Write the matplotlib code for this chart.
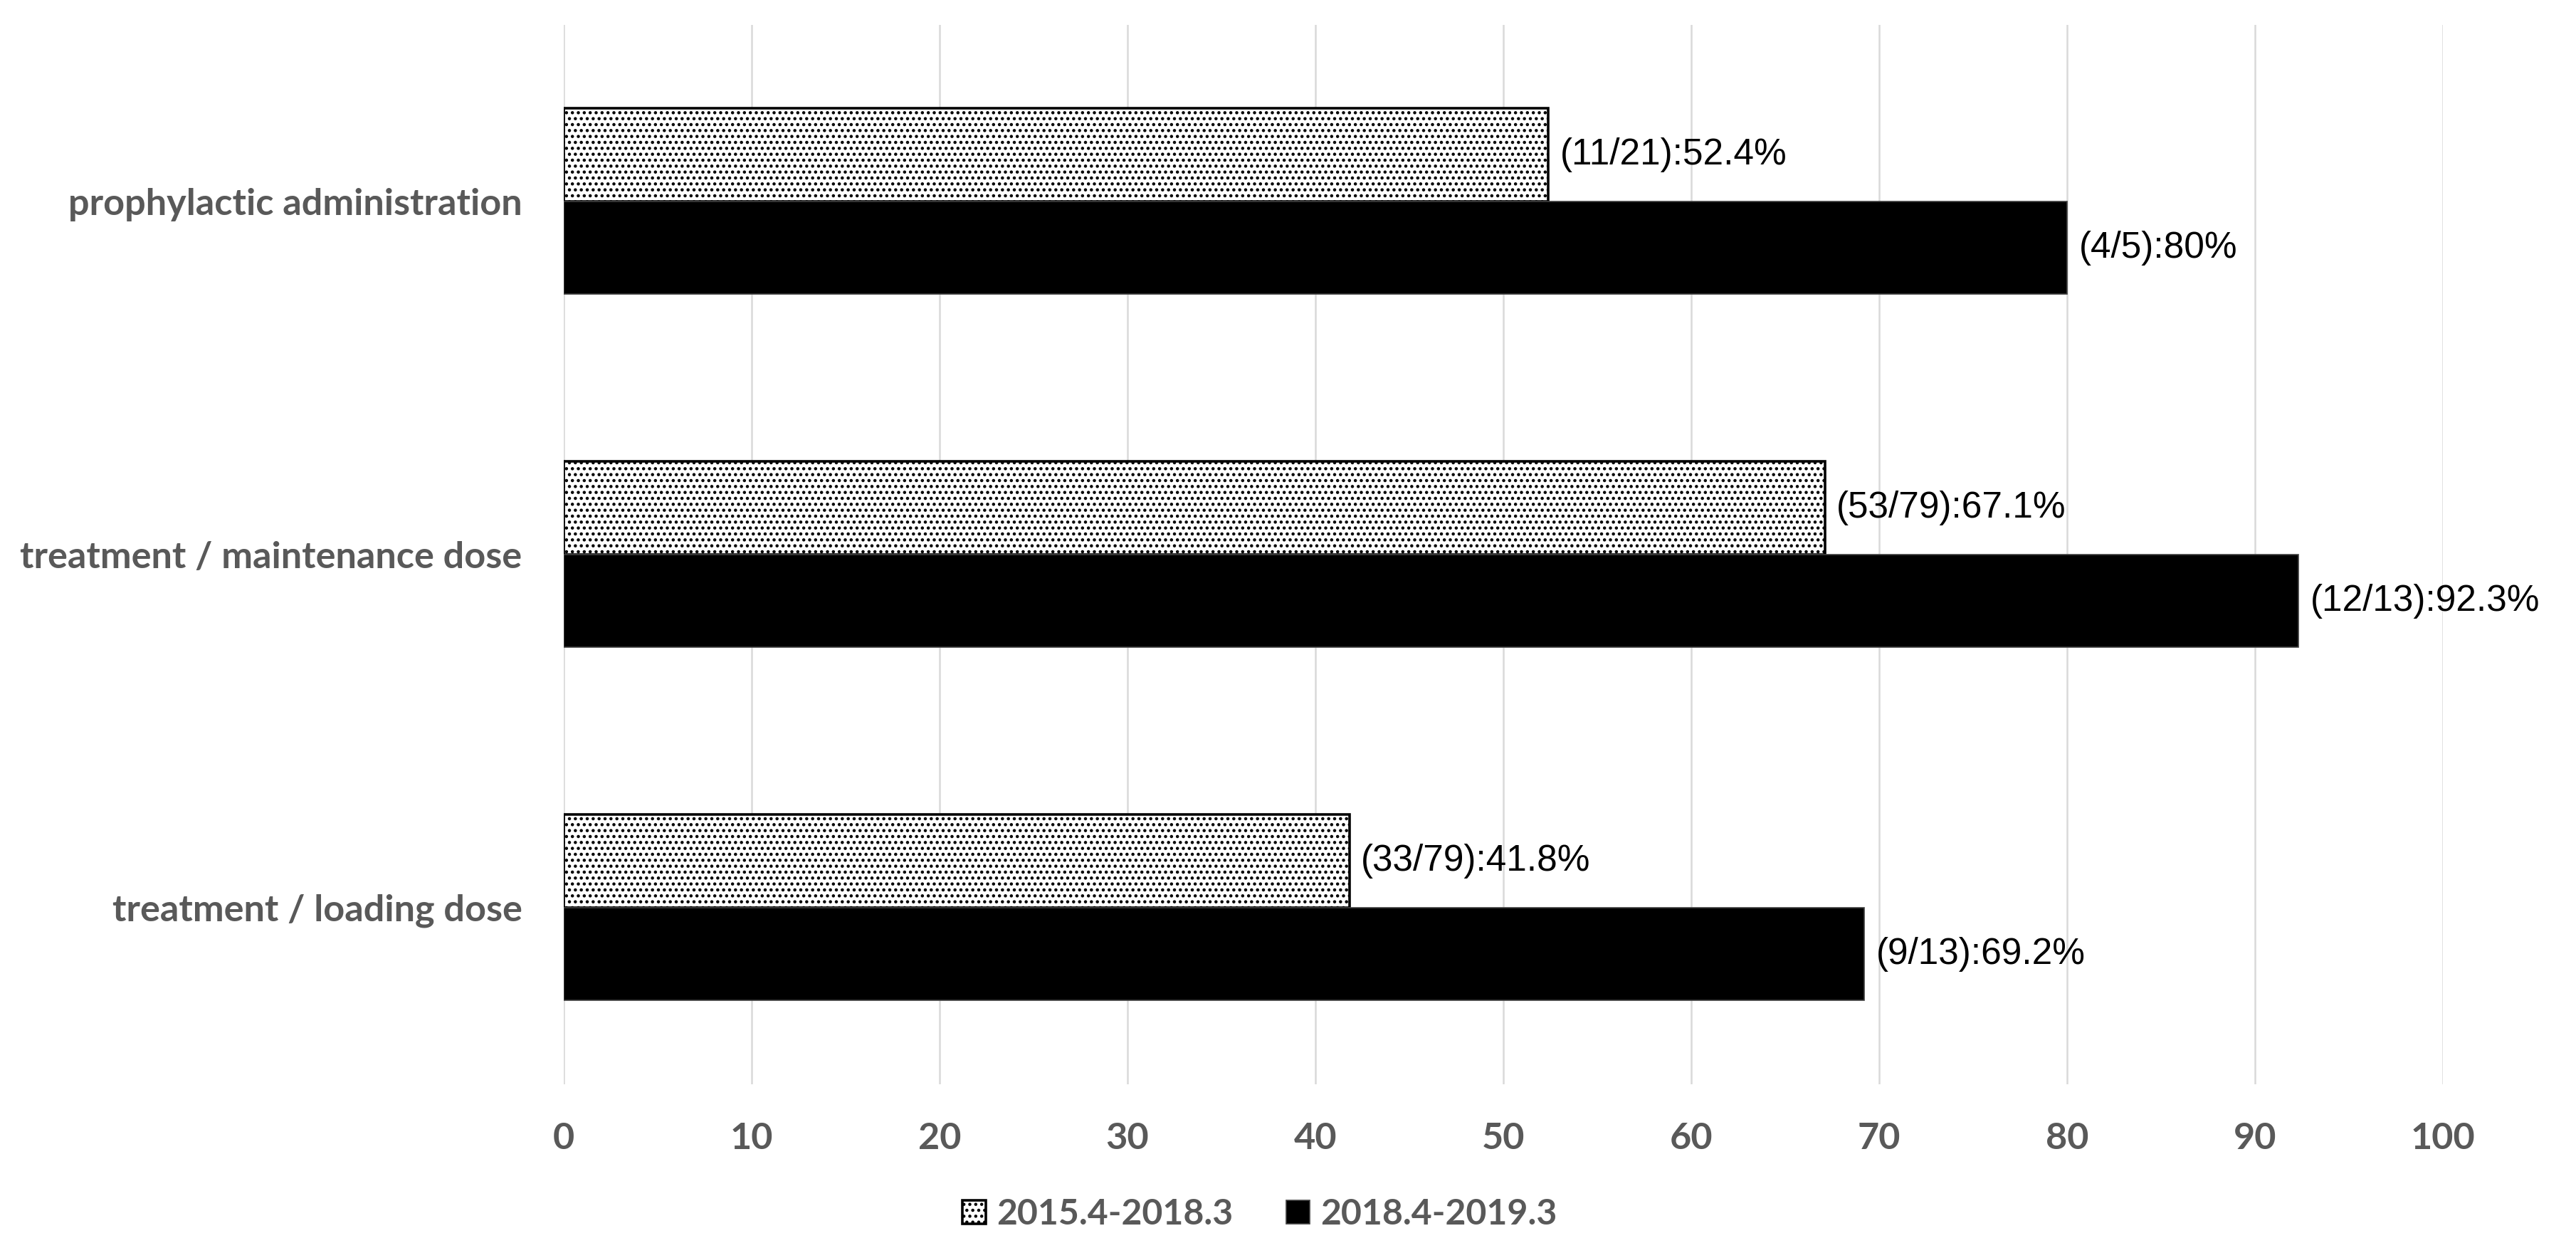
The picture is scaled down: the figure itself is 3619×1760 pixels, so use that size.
import matplotlib
matplotlib.use("Agg")
import matplotlib.pyplot as plt
import numpy as np

# categories, top to bottom
categories = ["prophylactic administration",
              "treatment / maintenance dose",
              "treatment / loading dose"]
series_names = ["2015.4-2018.3", "2018.4-2019.3"]
rate_2015 = [52.4, 67.1, 41.8]
rate_2018 = [80, 92.3, 69.2]
labels_2015 = ["(11/21):52.4%", "(53/79):67.1%", "(33/79):41.8%"]
labels_2018 = ["(4/5):80%", "(12/13):92.3%", "(9/13):69.2%"]
xticks = [0, 10, 20, 30, 40, 50, 60, 70, 80, 90, 100]

gray = "#595959"
label_font = ["Lato", "DejaVu Sans"]
data_font = ["Liberation Sans", "DejaVu Sans"]

fig = plt.figure(figsize=(18.095, 8.8), dpi=200)
ax = fig.add_axes([0.2188, 0.1347, 0.7296, 0.8455])

y = np.arange(len(categories))
h = 0.263

bars1 = ax.barh(y - h / 2, rate_2015, height=h, color="white", edgecolor="black",
                linewidth=1.3, hatch="....", label=series_names[0], zorder=3)
bars2 = ax.barh(y + h / 2, rate_2018, height=h, color="black", edgecolor="#404040",
                linewidth=0.6, label=series_names[1], zorder=3)

for bars, texts in ((bars1, labels_2015), (bars2, labels_2018)):
    for b, t in zip(bars, texts):
        ax.annotate(t, (b.get_width(), b.get_y() + b.get_height() / 2),
                    xytext=(6, 0), textcoords="offset points",
                    va="center", ha="left", fontsize=18.5, color="black",
                    family=data_font)

ax.set_xlim(0, 100)
ax.set_ylim(len(categories) - 0.5, -0.5)
ax.set_xticks(xticks)
ax.set_yticks(y)
ax.set_yticklabels(categories)
ax.grid(axis="x", color="#d9d9d9", linewidth=0.9, zorder=0)
ax.set_axisbelow(True)
for s in ax.spines.values():
    s.set_visible(False)
ax.tick_params(axis="both", length=0, colors=gray)
ax.tick_params(axis="y", pad=21)
ax.tick_params(axis="x", pad=19)
for lab in ax.get_xticklabels() + ax.get_yticklabels():
    lab.set_family(label_font)
    lab.set_fontweight("bold")
    lab.set_fontsize(18.8)
    lab.set_color(gray)

leg = fig.legend(handles=[bars1, bars2], loc="center", bbox_to_anchor=(0.489, 0.031),
                 ncol=2, frameon=False, handlelength=0.65, handleheight=0.65,
                 handletextpad=0.3, columnspacing=1.5,
                 prop={"family": label_font, "weight": "bold", "size": 18})
for t in leg.get_texts():
    t.set_color(gray)

fig.savefig("out.png", dpi=200)
